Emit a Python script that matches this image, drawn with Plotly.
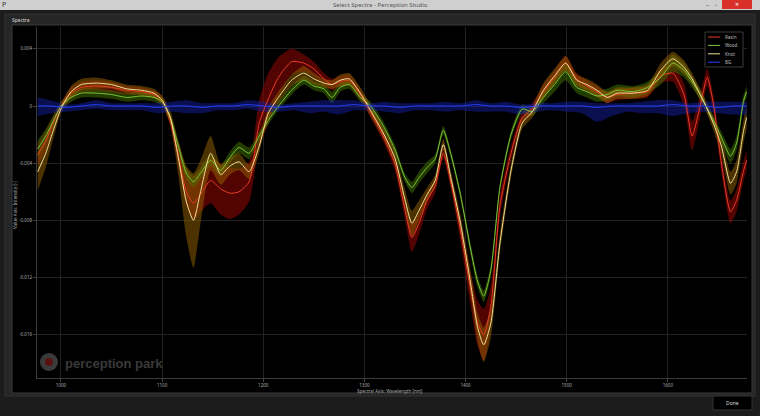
import plotly.graph_objects as go

# ---------------- data ----------------
wl = [977, 985, 992, 1000, 1010, 1020, 1035, 1050, 1065, 1080,
      1092, 1100, 1108, 1116, 1124, 1131, 1138, 1148, 1158, 1167,
      1176, 1186, 1196, 1205, 1215, 1228, 1240, 1250, 1260, 1268,
      1276, 1285, 1296, 1306, 1318, 1330, 1340, 1347, 1354, 1362,
      1370, 1378, 1386, 1395, 1405, 1412, 1418, 1425, 1434, 1445,
      1456, 1466, 1477, 1488, 1499, 1510, 1520, 1530, 1540, 1550,
      1566, 1580, 1593, 1605, 1616, 1624, 1632, 1639, 1645, 1653,
      1662, 1668, 1675, 1678]

rasin_mean = [-0.0034, -0.0024, -0.0012, 0.0000, 0.0009, 0.0013, 0.0014, 0.0013, 0.0011, 0.0010,
              0.0008, 0.0004, -0.0010, -0.0035, -0.0060, -0.0068, -0.0062, -0.0052, -0.0058, -0.0061,
              -0.0060, -0.0053, -0.0012, 0.0005, 0.0020, 0.0031, 0.0030, 0.0026, 0.0019, 0.0015,
              0.0017, 0.0018, 0.0008, -0.0004, -0.0020, -0.0040, -0.0072, -0.0092, -0.0082, -0.0066,
              -0.0056, -0.0033, -0.0055, -0.0087, -0.0128, -0.0152, -0.0160, -0.0140, -0.0070, -0.0033,
              -0.0008, -0.0002, 0.0010, 0.0020, 0.0030, 0.0019, 0.0014, 0.0010, 0.0006, 0.0008,
              0.0009, 0.0010, 0.0021, 0.0023, 0.0008, -0.0021, 0.0000, 0.0020, 0.0002, -0.0040,
              -0.0074, -0.0066, -0.0045, -0.0038]
rasin_std = [0.0008, 0.0007, 0.0005, 0.0003, 0.0004, 0.0004, 0.0004, 0.0004, 0.0003, 0.0003,
             0.0003, 0.0003, 0.0004, 0.0006, 0.0010, 0.0012, 0.0012, 0.0016, 0.0018, 0.0018,
             0.0016, 0.0014, 0.0016, 0.0018, 0.0014, 0.0009, 0.0006, 0.0005, 0.0004, 0.0004,
             0.0004, 0.0004, 0.0004, 0.0004, 0.0004, 0.0005, 0.0007, 0.0010, 0.0008, 0.0006,
             0.0005, 0.0004, 0.0005, 0.0008, 0.0012, 0.0016, 0.0018, 0.0014, 0.0008, 0.0005,
             0.0004, 0.0004, 0.0005, 0.0005, 0.0005, 0.0004, 0.0004, 0.0004, 0.0004, 0.0004,
             0.0004, 0.0004, 0.0005, 0.0006, 0.0008, 0.0010, 0.0008, 0.0006, 0.0006, 0.0007,
             0.0008, 0.0008, 0.0007, 0.0007]

wood_mean = [-0.0030, -0.0021, -0.0011, 0.0000, 0.0006, 0.0009, 0.0009, 0.0008, 0.0006, 0.0007,
             0.0006, 0.0003, -0.0008, -0.0028, -0.0047, -0.0053, -0.0047, -0.0038, -0.0045, -0.0036,
             -0.0029, -0.0033, -0.0021, -0.0010, 0.0000, 0.0011, 0.0018, 0.0014, 0.0012, 0.0006,
             0.0013, 0.0015, 0.0006, 0.0000, -0.0013, -0.0030, -0.0050, -0.0057, -0.0050, -0.0043,
             -0.0037, -0.0017, -0.0035, -0.0062, -0.0100, -0.0123, -0.0133, -0.0115, -0.0057, -0.0020,
             -0.0002, -0.0004, 0.0006, 0.0015, 0.0024, 0.0013, 0.0010, 0.0007, 0.0008, 0.0011,
             0.0010, 0.0013, 0.0020, 0.0030, 0.0025, 0.0017, 0.0008, -0.0002, -0.0010, -0.0022,
             -0.0035, -0.0026, 0.0004, 0.0010]
wood_std = [0.0006, 0.0005, 0.0004, 0.0003, 0.0003, 0.0003, 0.0003, 0.0003, 0.0003, 0.0003,
            0.0003, 0.0003, 0.0003, 0.0003, 0.0004, 0.0004, 0.0004, 0.0004, 0.0004, 0.0004,
            0.0004, 0.0004, 0.0003, 0.0003, 0.0003, 0.0003, 0.0003, 0.0003, 0.0003, 0.0004,
            0.0003, 0.0003, 0.0003, 0.0003, 0.0003, 0.0003, 0.0003, 0.0004, 0.0004, 0.0004,
            0.0003, 0.0003, 0.0003, 0.0003, 0.0004, 0.0004, 0.0004, 0.0004, 0.0003, 0.0003,
            0.0003, 0.0003, 0.0004, 0.0005, 0.0006, 0.0004, 0.0004, 0.0004, 0.0004, 0.0004,
            0.0004, 0.0004, 0.0005, 0.0006, 0.0005, 0.0004, 0.0004, 0.0003, 0.0003, 0.0004,
            0.0005, 0.0005, 0.0004, 0.0004]

knot_mean = [-0.0046, -0.0033, -0.0018, -0.0002, 0.0010, 0.0015, 0.0016, 0.0015, 0.0012, 0.0011,
             0.0009, 0.0004, -0.0008, -0.0036, -0.0067, -0.0080, -0.0060, -0.0033, -0.0048, -0.0042,
             -0.0039, -0.0046, -0.0028, -0.0005, 0.0006, 0.0018, 0.0023, 0.0019, 0.0016, 0.0015,
             0.0018, 0.0019, 0.0009, -0.0003, -0.0018, -0.0036, -0.0065, -0.0082, -0.0073, -0.0062,
             -0.0052, -0.0027, -0.0052, -0.0082, -0.0124, -0.0155, -0.0167, -0.0152, -0.0096, -0.0045,
             -0.0012, -0.0004, 0.0011, 0.0021, 0.0030, 0.0018, 0.0015, 0.0011, 0.0006, 0.0009,
             0.0009, 0.0011, 0.0025, 0.0033, 0.0027, 0.0019, 0.0008, -0.0002, -0.0012, -0.0028,
             -0.0054, -0.0046, -0.0017, -0.0008]
knot_std = [0.0013, 0.0010, 0.0006, 0.0003, 0.0004, 0.0004, 0.0004, 0.0003, 0.0003, 0.0003,
            0.0003, 0.0003, 0.0005, 0.0012, 0.0025, 0.0033, 0.0022, 0.0012, 0.0007, 0.0006,
            0.0006, 0.0005, 0.0005, 0.0004, 0.0004, 0.0004, 0.0005, 0.0004, 0.0003, 0.0003,
            0.0004, 0.0004, 0.0004, 0.0004, 0.0004, 0.0005, 0.0007, 0.0009, 0.0007, 0.0005,
            0.0004, 0.0004, 0.0005, 0.0006, 0.0008, 0.0010, 0.0012, 0.0010, 0.0007, 0.0005,
            0.0004, 0.0004, 0.0005, 0.0005, 0.0005, 0.0004, 0.0004, 0.0004, 0.0004, 0.0004,
            0.0004, 0.0004, 0.0005, 0.0005, 0.0005, 0.0004, 0.0004, 0.0004, 0.0005, 0.0006,
            0.0008, 0.0008, 0.0008, 0.0008]

wl_bg = [977, 990, 1005, 1020, 1035, 1050, 1065, 1080, 1095, 1110,
         1125, 1140, 1155, 1170, 1185, 1200, 1215, 1230, 1245, 1260,
         1275, 1290, 1305, 1320, 1335, 1350, 1365, 1380, 1395, 1410,
         1425, 1440, 1455, 1470, 1485, 1500, 1515, 1530, 1545, 1560,
         1575, 1590, 1605, 1620, 1635, 1650, 1665, 1678]
bg_mean = [0.0000, 0.0000, -0.0001, 0.0000, 0.0001, 0.0000, 0.0000, 0.0000, -0.0001, 0.0000,
           0.0000, -0.0001, 0.0000, 0.0000, 0.0001, 0.0000, -0.0001, 0.0000, 0.0000, 0.0000,
           0.0000, 0.0001, 0.0000, 0.0000, -0.0001, 0.0000, 0.0000, 0.0000, 0.0000, 0.0001,
           0.0000, 0.0000, -0.0001, 0.0000, 0.0000, 0.0000, 0.0000, -0.0001, 0.0000, 0.0000,
           0.0000, 0.0000, 0.0001, 0.0000, 0.0000, -0.0001, 0.0000, 0.0000]
bg_up = [0.0006, 0.0004, 0.0002, 0.0002, 0.0003, 0.0002, 0.0002, 0.0002, 0.0003, 0.0003,
         0.0004, 0.0003, 0.0002, 0.0002, 0.0003, 0.0003, 0.0002, 0.0002, 0.0003, 0.0004,
         0.0004, 0.0003, 0.0002, 0.0003, 0.0003, 0.0002, 0.0002, 0.0003, 0.0002, 0.0003,
         0.0002, 0.0003, 0.0002, 0.0002, 0.0002, 0.0003, 0.0003, 0.0003, 0.0002, 0.0002,
         0.0003, 0.0004, 0.0003, 0.0002, 0.0003, 0.0004, 0.0003, 0.0003]
bg_dn = [0.0007, 0.0005, 0.0003, 0.0003, 0.0003, 0.0003, 0.0003, 0.0003, 0.0004, 0.0004,
         0.0005, 0.0004, 0.0003, 0.0003, 0.0003, 0.0004, 0.0003, 0.0003, 0.0005, 0.0004,
         0.0006, 0.0004, 0.0003, 0.0004, 0.0004, 0.0003, 0.0003, 0.0004, 0.0003, 0.0005,
         0.0004, 0.0004, 0.0005, 0.0004, 0.0003, 0.0004, 0.0005, 0.0010, 0.0007, 0.0004,
         0.0005, 0.0005, 0.0008, 0.0005, 0.0004, 0.0004, 0.0006, 0.0006]

x_ticks = [1000, 1100, 1200, 1300, 1400, 1500, 1600]
y_ticks = [0.004, 0, -0.004, -0.008, -0.012, -0.016]
y_ticktext = ["0,004", "0", "-0,004", "-0,008", "-0,012", "-0,016"]
legend_names = ["Rasin", "Wood", "Knot", "BG"]

# ---------------- layout geometry ----------------
W, H = 760, 416
L, R, T, B = 37, 13, 27, 38
PW, PH = W - L - R, H - T - B


def px(xp):
    return (xp - L) / PW


def py(yp):
    return (H - B - yp) / PH


FONT = "Noto Sans"
fig = go.Figure()

series = [
    ("Rasin", rasin_mean, rasin_std, "#ea3c26", "rgba(135,6,4,0.6)"),
    ("Wood", wood_mean, wood_std, "#7cc63a", "rgba(62,110,0,0.55)"),
    ("Knot", knot_mean, knot_std, "#f0e09a", "rgba(150,100,0,0.5)"),
]
bg_line, bg_fill = "#2642ff", "rgba(20,30,160,0.5)"

# bands
for name, m, s, lc, fc in series:
    up = [a + b for a, b in zip(m, s)]
    lo = [a - b for a, b in zip(m, s)]
    fig.add_trace(go.Scatter(x=wl, y=up, mode="lines", line=dict(width=0, shape="spline", smoothing=0.6),
                             showlegend=False, hoverinfo="skip"))
    fig.add_trace(go.Scatter(x=wl, y=lo, mode="lines", line=dict(width=0, shape="spline", smoothing=0.6),
                             fill="tonexty", fillcolor=fc, showlegend=False, hoverinfo="skip"))

bg_hi = [a + b for a, b in zip(bg_mean, bg_up)]
bg_lo = [a - b for a, b in zip(bg_mean, bg_dn)]
fig.add_trace(go.Scatter(x=wl_bg, y=bg_hi, mode="lines", line=dict(width=0, shape="spline", smoothing=0.6),
                         showlegend=False, hoverinfo="skip"))
fig.add_trace(go.Scatter(x=wl_bg, y=bg_lo, mode="lines", line=dict(width=0, shape="spline", smoothing=0.6),
                         fill="tonexty", fillcolor=bg_fill, showlegend=False, hoverinfo="skip"))

# mean lines
for name, m, s, lc, fc in series:
    fig.add_trace(go.Scatter(x=wl, y=m, mode="lines", name=name, showlegend=False,
                             line=dict(color=lc, width=1, shape="spline", smoothing=0.6)))
fig.add_trace(go.Scatter(x=wl_bg, y=bg_mean, mode="lines", name="BG", showlegend=False,
                         line=dict(color=bg_line, width=1, shape="spline", smoothing=0.6)))

# ---------------- decorations (window chrome) ----------------
shapes = [
    dict(type="rect", xref="paper", yref="paper", x0=px(0), x1=px(W), y0=py(0), y1=py(10),
         fillcolor="#cfcfcf", line=dict(width=0), layer="below"),
    dict(type="rect", xref="paper", yref="paper", x0=px(722), x1=px(752), y0=py(0), y1=py(9),
         fillcolor="#d9302a", line=dict(width=0), layer="below"),
    dict(type="rect", xref="paper", yref="paper", x0=px(5), x1=px(755), y0=py(14), y1=py(396),
         fillcolor="#262626", line=dict(color="#333333", width=1), layer="below"),
    dict(type="rect", xref="paper", yref="paper", x0=px(12), x1=px(752), y0=py(25), y1=py(393),
         fillcolor="#000000", line=dict(color="#3a3a3a", width=1), layer="below"),
    dict(type="rect", xref="paper", yref="paper", x0=px(713), x1=px(752), y0=py(396), y1=py(410),
         fillcolor="#000000", line=dict(color="#333333", width=1), layer="below"),
    dict(type="circle", xref="paper", yref="paper", x0=px(40), x1=px(58), y0=py(353), y1=py(371),
         fillcolor="#3a3a3a", line=dict(width=0), layer="below"),
    dict(type="circle", xref="paper", yref="paper", x0=px(45), x1=px(53), y0=py(358), y1=py(366),
         fillcolor="#5a1010", line=dict(width=0), layer="below"),
    # legend box
    dict(type="rect", xref="paper", yref="paper", x0=px(705), x1=px(743), y0=py(32), y1=py(67),
         fillcolor="#000000", line=dict(color="#3a3a3a", width=1), layer="above"),
]

annotations = [
    dict(text="Select Spectra - Perception Studio", x=px(380), y=py(5), xref="paper", yref="paper",
         showarrow=False, font=dict(size=6, color="#555555", family=FONT), xanchor="center", yanchor="middle"),
    dict(text="P", x=px(4), y=py(5), xref="paper", yref="paper", showarrow=False,
         font=dict(size=7, color="#333333", family=FONT), xanchor="center", yanchor="middle"),
    dict(text="–", x=px(707), y=py(5), xref="paper", yref="paper", showarrow=False,
         font=dict(size=6, color="#444444", family=FONT), xanchor="center", yanchor="middle"),
    dict(text="▫", x=px(716), y=py(5), xref="paper", yref="paper", showarrow=False,
         font=dict(size=6, color="#444444", family=FONT), xanchor="center", yanchor="middle"),
    dict(text="×", x=px(737), y=py(4.5), xref="paper", yref="paper", showarrow=False,
         font=dict(size=7, color="#ffffff", family=FONT), xanchor="center", yanchor="middle"),
    dict(text="Spectra", x=px(10), y=py(20), xref="paper", yref="paper", showarrow=False,
         font=dict(size=5, color="#dddddd", family=FONT), xanchor="left", yanchor="middle"),
    dict(text="Done", x=px(732.5), y=py(403), xref="paper", yref="paper", showarrow=False,
         font=dict(size=5, color="#dddddd", family=FONT), xanchor="center", yanchor="middle"),
    dict(text="<b>perception park</b>", x=px(63), y=py(363), xref="paper", yref="paper", showarrow=False,
         font=dict(size=13, color="#3a3a3a", family="Liberation Sans"), xanchor="left", yanchor="middle"),
    dict(text="Spectral Axis: Wavelength [nm]", x=px(390), y=py(391), xref="paper", yref="paper",
         showarrow=False, font=dict(size=4.5, color="#aaaaaa", family=FONT), xanchor="center", yanchor="middle"),
    dict(text="Value Axis: Intensity [-]", x=px(15), y=py(205), xref="paper", yref="paper",
         showarrow=False, textangle=-90, font=dict(size=4.5, color="#aaaaaa", family=FONT),
         xanchor="center", yanchor="middle"),
]

# manual legend (shapes + labels)
legend_colors = [series[0][3], series[1][3], series[2][3], bg_line]
for i, (nm, col) in enumerate(zip(legend_names, legend_colors)):
    yy = 37 + i * 8.4
    shapes.append(dict(type="line", xref="paper", yref="paper", x0=px(708), x1=px(720), y0=py(yy), y1=py(yy),
                       line=dict(color=col, width=1), layer="above"))
    annotations.append(dict(text=nm, x=px(722.5), y=py(yy), xref="paper", yref="paper", showarrow=False,
                            font=dict(size=4.5, color="#bbbbbb", family=FONT), xanchor="left", yanchor="middle"))

fig.update_layout(
    width=W, height=H,
    margin=dict(l=L, r=R, t=T, b=B, pad=0),
    paper_bgcolor="#1c1c1c",
    plot_bgcolor="#000000",
    shapes=shapes,
    annotations=annotations,
    showlegend=False,
    xaxis=dict(range=[976.3, 1678.3], tickvals=x_ticks, ticktext=[str(v) for v in x_ticks],
               showgrid=True, gridcolor="#222222", gridwidth=1, zeroline=False,
               showline=True, linecolor="#3c3c3c", linewidth=1,
               ticks="outside", ticklen=3, tickcolor="#444444",
               tickfont=dict(size=4.5, color="#aaaaaa", family=FONT)),
    yaxis=dict(range=[-0.01902, 0.005524], tickvals=y_ticks, ticktext=y_ticktext,
               showgrid=True, gridcolor="#222222", gridwidth=1, zeroline=False,
               showline=True, linecolor="#3c3c3c", linewidth=1,
               ticks="outside", ticklen=3, tickcolor="#444444",
               tickfont=dict(size=4.5, color="#aaaaaa", family=FONT)),
)

fig.write_html("out.html", config={"displayModeBar": False},
               post_script="document.body.style.margin='0';document.body.style.padding='0';document.body.style.overflow='hidden';")
